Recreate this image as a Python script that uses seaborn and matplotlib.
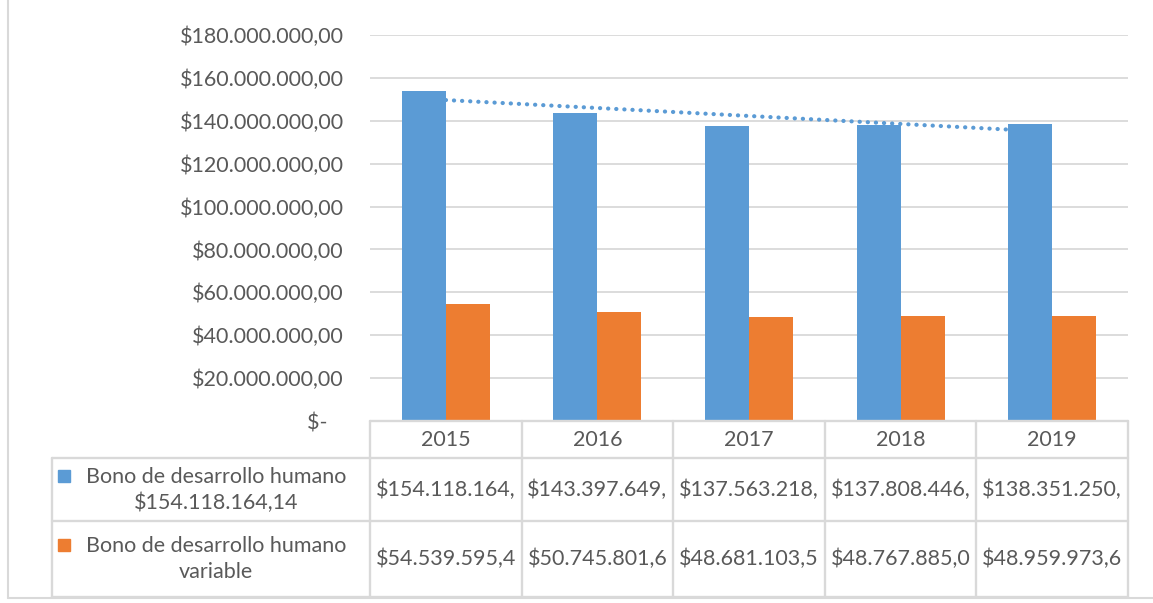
import numpy as np
import pandas as pd
import matplotlib
matplotlib.use('Agg')
import matplotlib.pyplot as plt
import seaborn as sns
from matplotlib.patches import Rectangle
from matplotlib.lines import Line2D

# data
years = ['2015', '2016', '2017', '2018', '2019']
series = ['Bono de desarrollo humano $154.118.164,14', 'Bono de desarrollo humano variable']
row_labels = ['Bono de desarrollo humano\n$154.118.164,14', 'Bono de desarrollo humano\nvariable']
bdh = [154118164.14, 143397649.50, 137563218.40, 137808446.20, 138351250.30]
bdh_var = [54539595.40, 50745801.60, 48681103.50, 48767885.00, 48959973.60]
colors = ['#5B9BD5', '#ED7D31']

df = pd.DataFrame({
    'year': years * 2,
    'value': bdh + bdh_var,
    'serie': [series[0]] * 5 + [series[1]] * 5,
})

sns.set_theme(style='white')
plt.rcParams['font.family'] = ['Lato', 'DejaVu Sans']
txt = '#595959'
grid = '#D9D9D9'
fs = 15.5


def money(v):
    s = f"${v:,.2f}"
    return s.replace(',', '_').replace('.', ',').replace('_', '.')


W, H = 1153, 603
fig = plt.figure(figsize=(W / 100, H / 100), dpi=100)


def fx(p):
    return p / W


def fy(p):
    return 1 - p / H


# plot area
ax = fig.add_axes([fx(370), fy(421), fx(1128) - fx(370), fy(35) - fy(421)])
sns.barplot(data=df, x='year', y='value', hue='serie', palette=colors, saturation=1,
            width=0.58, ax=ax, legend=False, edgecolor='none', zorder=2)

# linear trendline for the first series
xs = np.arange(len(years))
k, b = np.polyfit(xs, bdh, 1)
ax.plot(xs, k * xs + b, linestyle=(0, (0.05, 1.9)), color=colors[0], lw=3,
        dash_capstyle='round', solid_capstyle='round', zorder=3)

ax.set_xlim(-0.5, 4.5)
ax.set_ylim(0, 180e6)
yt = np.arange(0, 180e6 + 1, 20e6)
ax.set_yticks(yt)
ax.set_yticklabels(['$-   ' if v == 0 else money(v) for v in yt], color=txt, fontsize=fs)
ax.tick_params(axis='y', length=0, pad=19)
ax.set_xticks([])
ax.set_xlabel('')
ax.set_ylabel('')
ax.yaxis.grid(True, color=grid, lw=1.3, zorder=0)
ax.set_axisbelow(True)
for s in ax.spines.values():
    s.set_visible(False)

# data table under the chart
cat_px = (1128 - 370) / 5
xl = -0.5 - (370 - 52) / cat_px
tax = fig.add_axes([fx(52), fy(597), fx(1128) - fx(52), fy(421) - fy(597)])
tax.set_xlim(xl, 4.5)
tax.set_ylim(597, 421)
tax.axis('off')
lc = dict(color=grid, lw=1.7, clip_on=False)
tax.plot([-0.5, 4.5], [421, 421], **lc)
for yy in [458, 521, 597]:
    tax.plot([xl, 4.5], [yy, yy], **lc)
for i in range(len(years) + 1):
    tax.plot([i - 0.5, i - 0.5], [421, 597], **lc)
tax.plot([xl, xl], [458, 597], **lc)

for i, yr in enumerate(years):
    tax.text(i, 440, yr, ha='center', va='center', color=txt, fontsize=fs)
    tax.text(i, 490, money(bdh[i])[:13], ha='center', va='center', color=txt, fontsize=fs)
    tax.text(i, 559, money(bdh_var[i])[:13], ha='center', va='center', color=txt, fontsize=fs)

tcx = -0.5 - (370 - 216) / cat_px
sq = 12 / cat_px
for lab, col, y0 in zip(row_labels, colors, [490, 559]):
    tax.text(tcx, y0, lab, ha='center', va='center', color=txt, fontsize=fs,
             linespacing=1.38)
    tax.add_patch(Rectangle((-0.5 - (370 - 58) / cat_px, y0 - 20), sq, 12,
                            color=col, clip_on=False))

# chart border
fig.add_artist(Line2D([fx(8), fx(8)], [fy(0), fy(598)], color=grid, lw=1.5))
fig.add_artist(Line2D([fx(8), 1], [fy(598), fy(598)], color=grid, lw=1.5))

fig.savefig('out.png', dpi=100)
